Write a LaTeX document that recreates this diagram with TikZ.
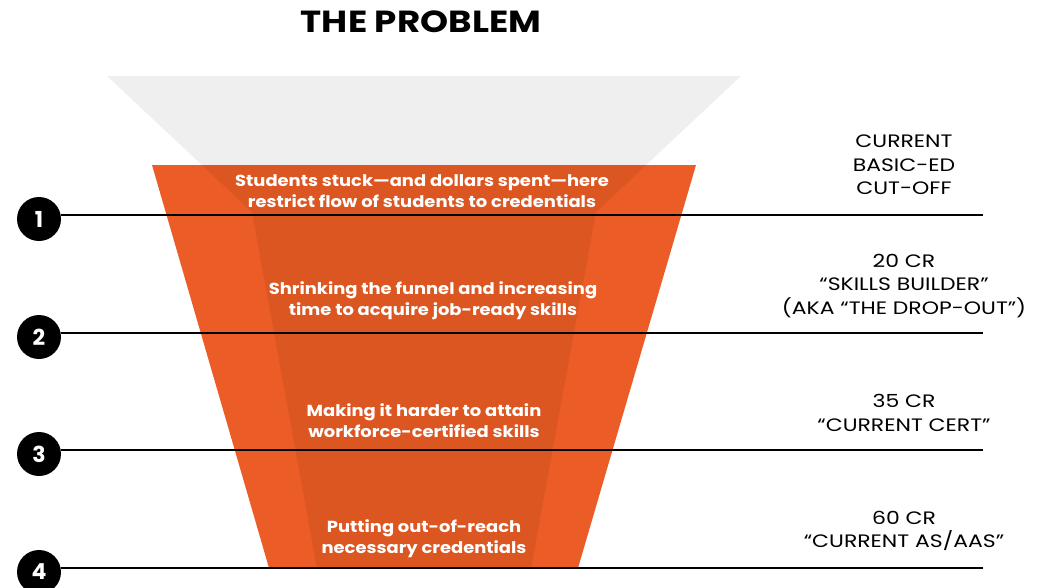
\documentclass[tikz,border=0pt]{standalone}
\usepackage{fontspec}
\setmainfont{Poppins}
\newfontfamily\titlefont{Poppins}[FakeStretch=1.17]
\newfontfamily\funnelfont{Poppins}[FakeStretch=1.12]
\newfontfamily\levelfont{Poppins}[FakeStretch=1.22]
\usetikzlibrary{positioning}

\definecolor{funnelgrey}{HTML}{EFEFEF}
\definecolor{funnelorange}{HTML}{EB5C27}
\definecolor{funneldark}{HTML}{DC5622}

\begin{document}
\begin{tikzpicture}[
			x=1pt, y=-1pt,
			num/.style = {circle, fill=black, text=white, minimum size=44pt, inner sep=0pt, font=\fontsize{22}{24}\selectfont\bfseries},
			inside/.style = {text=white, align=center, font=\funnelfont\fontsize{16}{21}\selectfont\bfseries},
			level/.style = {align=center, text=black, font=\levelfont\fontsize{18}{23.5}\selectfont},
			cutline/.style = {line width=1.6pt}
		]
		\useasboundingbox (0,0) rectangle (1046,587);
		\node[font=\titlefont\fontsize{30.5}{32}\selectfont\bfseries] (title) at (421,22) {THE PROBLEM};
		% grey funnel behind
		\fill[funnelgrey] (107,76) -- (741,76) -- (596,212) -- (531,568) -- (317,568) -- (252,212) -- cycle;
		% orange funnel
		\fill[funnelorange] (152,165) -- (696,165) -- (578,568) -- (269,568) -- cycle;
		\begin{scope}
			\clip (152,165) -- (696,165) -- (578,568) -- (269,568) -- cycle;
			\fill[funneldark] (107,76) -- (741,76) -- (596,212) -- (531,568) -- (317,568) -- (252,212) -- cycle;
		\end{scope}
		% texts in the funnel
		\node[inside] (t1) at (422,191) {Students stuck—and dollars spent—here\\restrict flow of students to credentials};
		\node[inside] (t2) at (433,301) {Shrinking the funnel and increasing\\time to acquire job-ready skills};
		\node[inside] (t3) at (424,421) {Making it harder to attain\\workforce-certified skills};
		\node[inside] (t4) at (424,539) {Putting out-of-reach\\necessary credentials};
		% levels on the right
		\node[level] (r1) at (904,165) {CURRENT\\BASIC-ED\\CUT-OFF};
		\node[level] (r2) at (904,286) {20 CR\\“SKILLS BUILDER”\\(AKA “THE DROP-OUT”)};
		\node[level] (r3) at (904,413) {35 CR\\“CURRENT CERT”};
		\node[level] (r4) at (904,531) {60 CR\\“CURRENT AS/AAS”};
		% numbered cut lines
		\coordinate (e1) at (983,215);
		\coordinate (e2) at (983,333);
		\coordinate (e3) at (983,450);
		\coordinate (e4) at (983,568);
		\node[num] (1) at (39,219) {1};
		\node[num] (2) at (39,337) {2};
		\node[num] (3) at (39,454) {3};
		\node[num] (4) at (39,572) {4};
		\draw[cutline] (1.east |- e1) -- (e1);
		\draw[cutline] (2.east |- e2) -- (e2);
		\draw[cutline] (3.east |- e3) -- (e3);
		\draw[cutline] (4.east |- e4) -- (e4);
	\end{tikzpicture}
\end{document}
